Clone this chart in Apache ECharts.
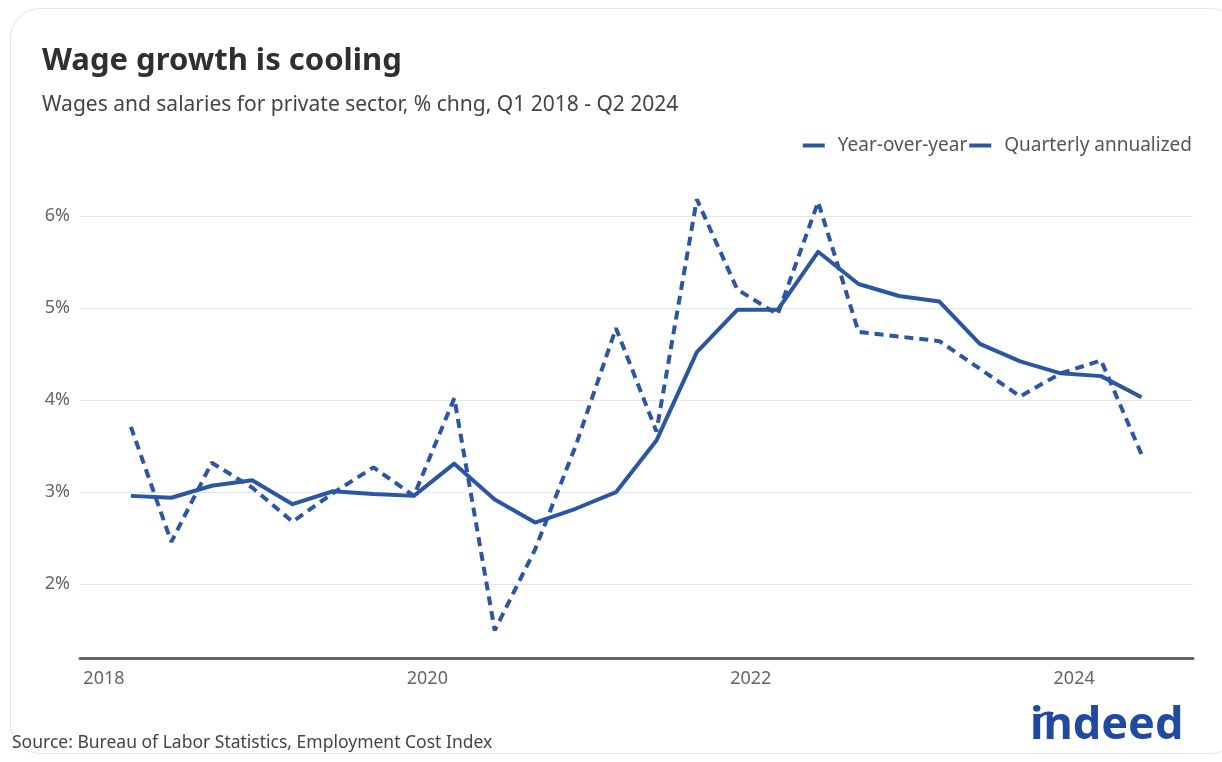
<!DOCTYPE html>
<html>
<head>
<meta charset="utf-8">
<script src="https://cdn.jsdelivr.net/npm/echarts@6/dist/echarts.min.js"></script>
<style>
html,body{margin:0;padding:0;background:#fff;width:1222px;height:762px;overflow:hidden;}
#card{position:absolute;left:10px;top:8px;width:1230px;height:746px;border:1.5px solid #dfe5ec;border-radius:30px;box-sizing:border-box;}
#chart{position:absolute;left:0;top:0;width:1222px;height:762px;}
</style>
</head>
<body>
<div id="card"></div>
<div id="chart"></div>
<script>
// Quarters plotted (Q1 2018 - Q2 2024)
const quarters = [
  "Q1 2018","Q2 2018","Q3 2018","Q4 2018",
  "Q1 2019","Q2 2019","Q3 2019","Q4 2019",
  "Q1 2020","Q2 2020","Q3 2020","Q4 2020",
  "Q1 2021","Q2 2021","Q3 2021","Q4 2021",
  "Q1 2022","Q2 2022","Q3 2022","Q4 2022",
  "Q1 2023","Q2 2023","Q3 2023","Q4 2023",
  "Q1 2024","Q2 2024"
];
// Year-over-year % change
const yoy = [2.96, 2.94, 3.07, 3.13, 2.87, 3.01, 2.98, 2.96, 3.31, 2.92, 2.67, 2.82, 3.00, 3.56, 4.52, 4.98, 4.98, 5.61, 5.26, 5.13, 5.07, 4.61, 4.42, 4.29, 4.26, 4.03];
// Quarterly annualized % change
const qtrAnn = [3.71, 2.46, 3.32, 3.05, 2.68, 2.99, 3.27, 2.96, 4.02, 1.50, 2.38, 3.50, 4.78, 3.66, 6.18, 5.20, 4.93, 6.15, 4.74, 4.69, 4.64, 4.34, 4.04, 4.29, 4.43, 3.41];
// Tick labels
const xTicks = [2018, 2020, 2022, 2024];
const yTicks = [2, 3, 4, 5, 6];

// position of a quarter on the time axis (fractional year; Q1 -> start of March)
function quarterPos(label) {
  const q = parseInt(label.charAt(1), 10);
  const y = parseInt(label.slice(3), 10);
  return y + (q - 1) / 4 + 1 / 6;
}
const xs = quarters.map(quarterPos);
const yoyData = xs.map((x, i) => [x, yoy[i]]);
const qaData = xs.map((x, i) => [x, qtrAnn[i]]);

const BLUE = '#2a56a3';
const chart = echarts.init(document.getElementById('chart'), null, {renderer: 'canvas'});
chart.setOption({
  animation: false,
  backgroundColor: 'transparent',
  textStyle: {fontFamily: 'Noto Sans'},
  title: [
    {text: 'Wage growth is cooling', left: 37, top: 41,
     textStyle: {fontSize: 31, fontWeight: 'bold', color: '#2f2f2f', fontFamily: 'Noto Sans'}},
    {text: 'Wages and salaries for private sector, % chng, Q1 2018 - Q2 2024', left: 37, top: 90,
     textStyle: {fontSize: 21, fontWeight: 'normal', color: '#444', fontFamily: 'Noto Sans'}},
    {text: 'Source: Bureau of Labor Statistics, Employment Cost Index', left: 7, top: 729,
     textStyle: {fontSize: 17.5, fontWeight: 'normal', color: '#444', fontFamily: 'Noto Sans'}}
  ],
  legend: {
    right: 25, top: 131, itemWidth: 22, itemHeight: 4, itemGap: 2, icon: 'rect',
    textStyle: {fontSize: 19, color: '#555', fontFamily: 'Noto Sans', padding: [0, 0, 0, 8]},
    data: ['Year-over-year', 'Quarterly annualized']
  },
  grid: {left: 80, right: 29, top: 179, bottom: 104, containLabel: false},
  xAxis: {
    type: 'value', min: 2017.852, max: 2024.735,
    axisLine: {show: true, onZero: false, lineStyle: {color: '#666', width: 3}},
    axisTick: {show: false},
    splitLine: {show: false},
    axisLabel: {customValues: xTicks, formatter: v => String(v), fontSize: 18, color: '#666', margin: 12, fontFamily: 'Noto Sans'}
  },
  yAxis: {
    type: 'value', min: 1.2, max: 6.4,
    axisLine: {show: false},
    axisTick: {show: false, customValues: yTicks},
    splitLine: {show: true, lineStyle: {color: '#e6e6e6', width: 1}},
    axisLabel: {customValues: yTicks, formatter: v => v + '%', fontSize: 18, color: '#666', margin: 10, fontFamily: 'Noto Sans'}
  },
  series: [
    {name: 'Year-over-year', type: 'line', data: yoyData, symbol: 'none',
     lineStyle: {color: BLUE, width: 4, type: 'solid', join: 'round'}, itemStyle: {color: BLUE}, z: 3},
    {name: 'Quarterly annualized', type: 'line', data: qaData, symbol: 'none',
     lineStyle: {color: BLUE, width: 4, type: [9, 6]}, itemStyle: {color: BLUE}, z: 2}
  ],
  graphic: [
    {type: 'text', left: 1030, top: 704,
     style: {text: 'indeed', fontSize: 45, fontWeight: 'bold', fill: '#1f4aa0', fontFamily: 'Noto Sans'}},
    {type: 'arc', shape: {cx: 1049, cy: 727, r: 14, startAngle: Math.PI * 1.15, endAngle: Math.PI * 1.6},
     style: {stroke: '#1f4aa0', lineWidth: 3, fill: null}}
  ]
});
</script>
</body>
</html>
